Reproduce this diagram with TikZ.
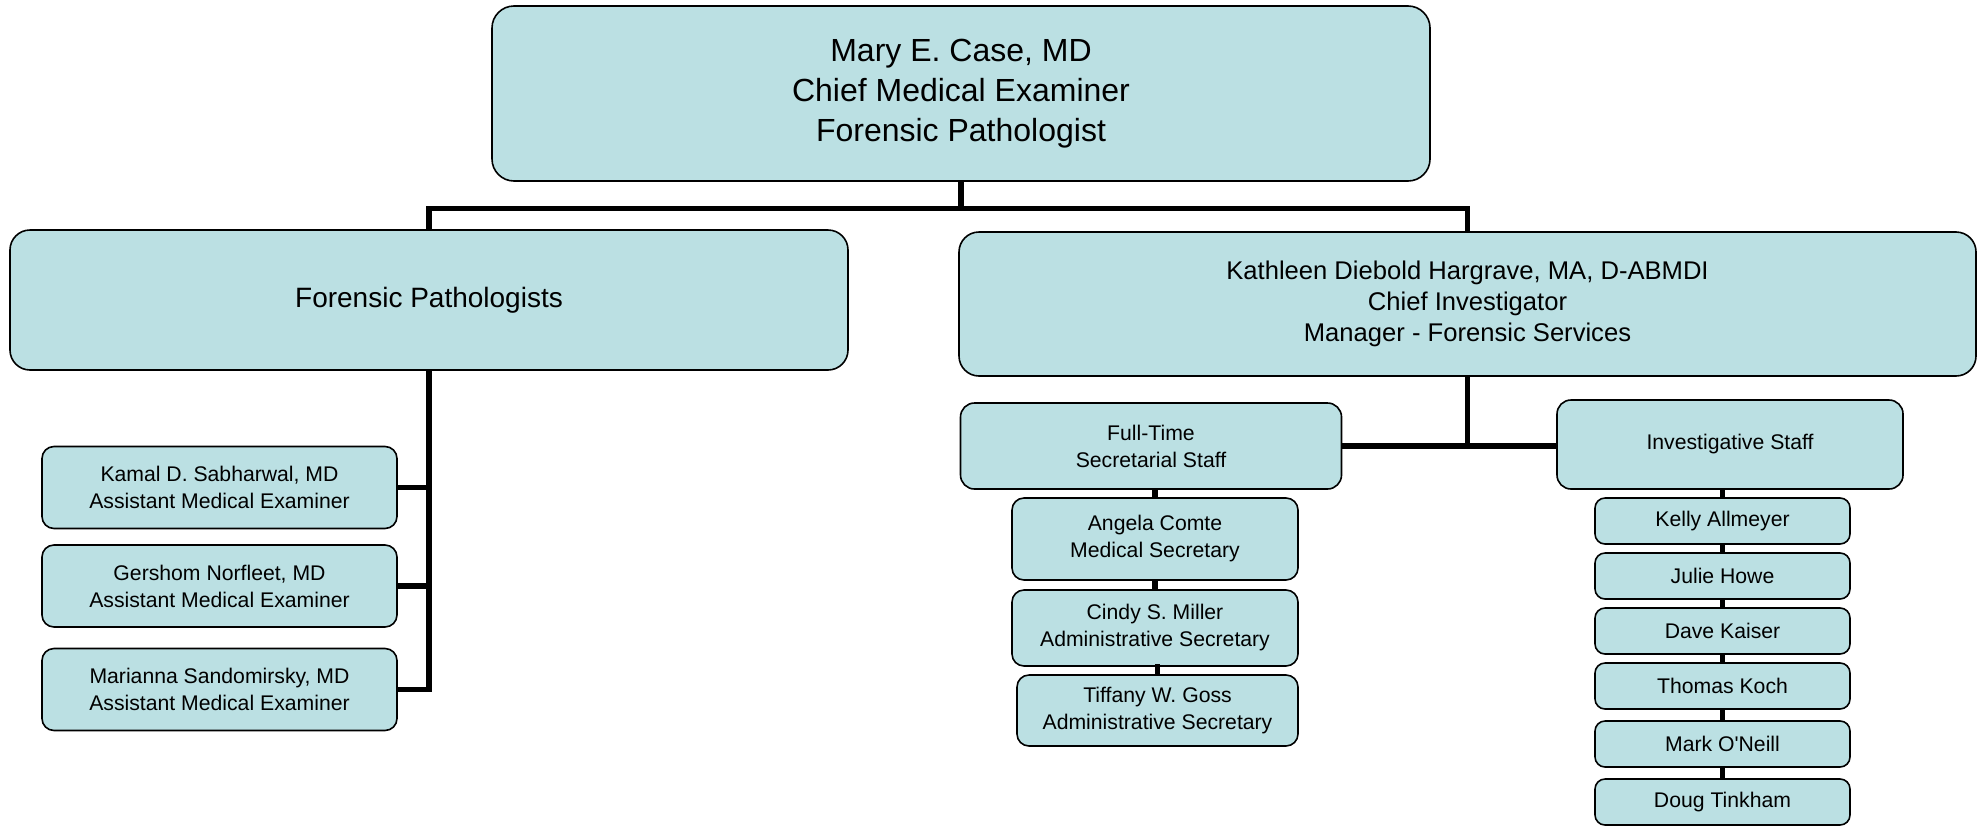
\documentclass[tikz,border=0pt]{standalone}
\usepackage{fontspec}
\setmainfont{Liberation Sans}
\usetikzlibrary{positioning}
\definecolor{orgfill}{HTML}{BBE0E3}

\begin{document}
\begin{tikzpicture}[
    x = 0.5pt, y = -0.5pt, % one unit per pixel, counted downwards
    link/.style = {line width = 2.6pt}, % connector style
    ]

    \tikzset{orgbox/.style={
    draw = black,
    line width = 0.8pt,
    fill = orgfill,
    align = center,
    inner sep = 0pt
    },
    chief/.style={orgbox, rounded corners=11pt, minimum width=469pt, minimum height=87.5pt,
      font=\fontsize{16}{20}\selectfont},
    unit/.style={orgbox, rounded corners=10pt, minimum height=70pt,
      font=\fontsize{12.8}{15.5}\selectfont},
    group/.style={orgbox, rounded corners=7pt, minimum height=43pt,
      font=\fontsize{10.6}{13.5}\selectfont},
    member/.style={orgbox, rounded corners=6pt, minimum height=41pt,
      font=\fontsize{10.6}{13.5}\selectfont},
    investigator/.style={orgbox, rounded corners=5pt, minimum width=127.5pt, minimum height=23pt,
      font=\fontsize{10.6}{13.5}\selectfont}
    }
    \useasboundingbox (0,0) rectangle (1984,825);

    \node[chief] (mec) at (961,93.5) {Mary E. Case, MD\\Chief Medical Examiner\\Forensic Pathologist};
    \node[unit, minimum width=419pt, font=\fontsize{14}{17}\selectfont] (fp) at (429,300) {Forensic Pathologists};
    \node[unit, minimum width=508.5pt, minimum height=72pt] (kdh) at (1467.5,304)
      {Kathleen Diebold Hargrave, MA, D-ABMDI\\Chief Investigator\\Manager - Forensic Services};

    % forensic pathologists
    \node[member, minimum width=177.5pt] (ksab) at (219.5,487.5) {Kamal D. Sabharwal, MD\\Assistant Medical Examiner};
    \node[member, minimum width=177.5pt] (gnor) at (219.5,586) {Gershom Norfleet, MD\\Assistant Medical Examiner};
    \node[member, minimum width=177.5pt] (msan) at (219.5,689.5) {Marianna Sandomirsky, MD\\Assistant Medical Examiner};

    % secretarial staff
    \node[group, minimum width=190.5pt] (sec) at (1151,446) {Full-Time\\Secretarial Staff};
    \node[member, minimum width=143pt] (acom) [below=3.7pt of sec.south, anchor=north, xshift=2pt] {Angela Comte\\Medical Secretary};
    \node[member, minimum width=143pt, minimum height=38pt] (cmil) [below=4.2pt of acom] {Cindy S. Miller\\Administrative Secretary};
    \node[member, minimum width=140.5pt, minimum height=35.5pt] (tgos) [below=3.7pt of cmil, xshift=1.25pt] {Tiffany W. Goss\\Administrative Secretary};

    % investigative staff
    \node[group, minimum width=173pt, minimum height=44.5pt] (inv) at (1730,444.5) {Investigative Staff};
    \node[investigator] (kall) [below=3.7pt of inv.south, anchor=north, xshift=-3.75pt] {Kelly Allmeyer};
    \node[investigator] (jhow) [below=3.7pt of kall] {Julie Howe};
    \node[investigator] (dkai) [below=3.7pt of jhow] {Dave Kaiser};
    \node[investigator] (tkoc) [below=3.7pt of dkai] {Thomas Koch};
    \node[investigator] (mone) [below=5.2pt of tkoc] {Mark O\textquotesingle Neill};
    \node[investigator] (dtin) [below=5.2pt of mone] {Doug Tinkham};

    \draw[link] (mec.south) -- ++(0,27) coordinate (split);
    \draw[link] (fp.north) |- (split) -| (kdh.north);

    \draw[link] (fp.south) |- (ksab.east);
    \draw[link] (fp.south) |- (gnor.east);
    \draw[link] (fp.south) |- (msan.east);

    \draw[link] (kdh.south) -- (kdh.south |- sec.east);
    \draw[link] (sec.east) -- (sec.east -| inv.west);

    \draw[link] (acom.north) -- (acom.north |- sec.south);
    \draw[link] (acom.south) -- (cmil.north);
    \draw[link] (cmil.south) -- (cmil.south -| tgos.north) -- (tgos.north);

    \draw[link] (kall.north) -- (kall.north |- inv.south);
    \draw[link] (kall) -- (jhow);
    \draw[link] (jhow) -- (dkai);
    \draw[link] (dkai) -- (tkoc);
    \draw[link] (tkoc) -- (mone);
    \draw[link] (mone) -- (dtin);
\end{tikzpicture}
\end{document}
